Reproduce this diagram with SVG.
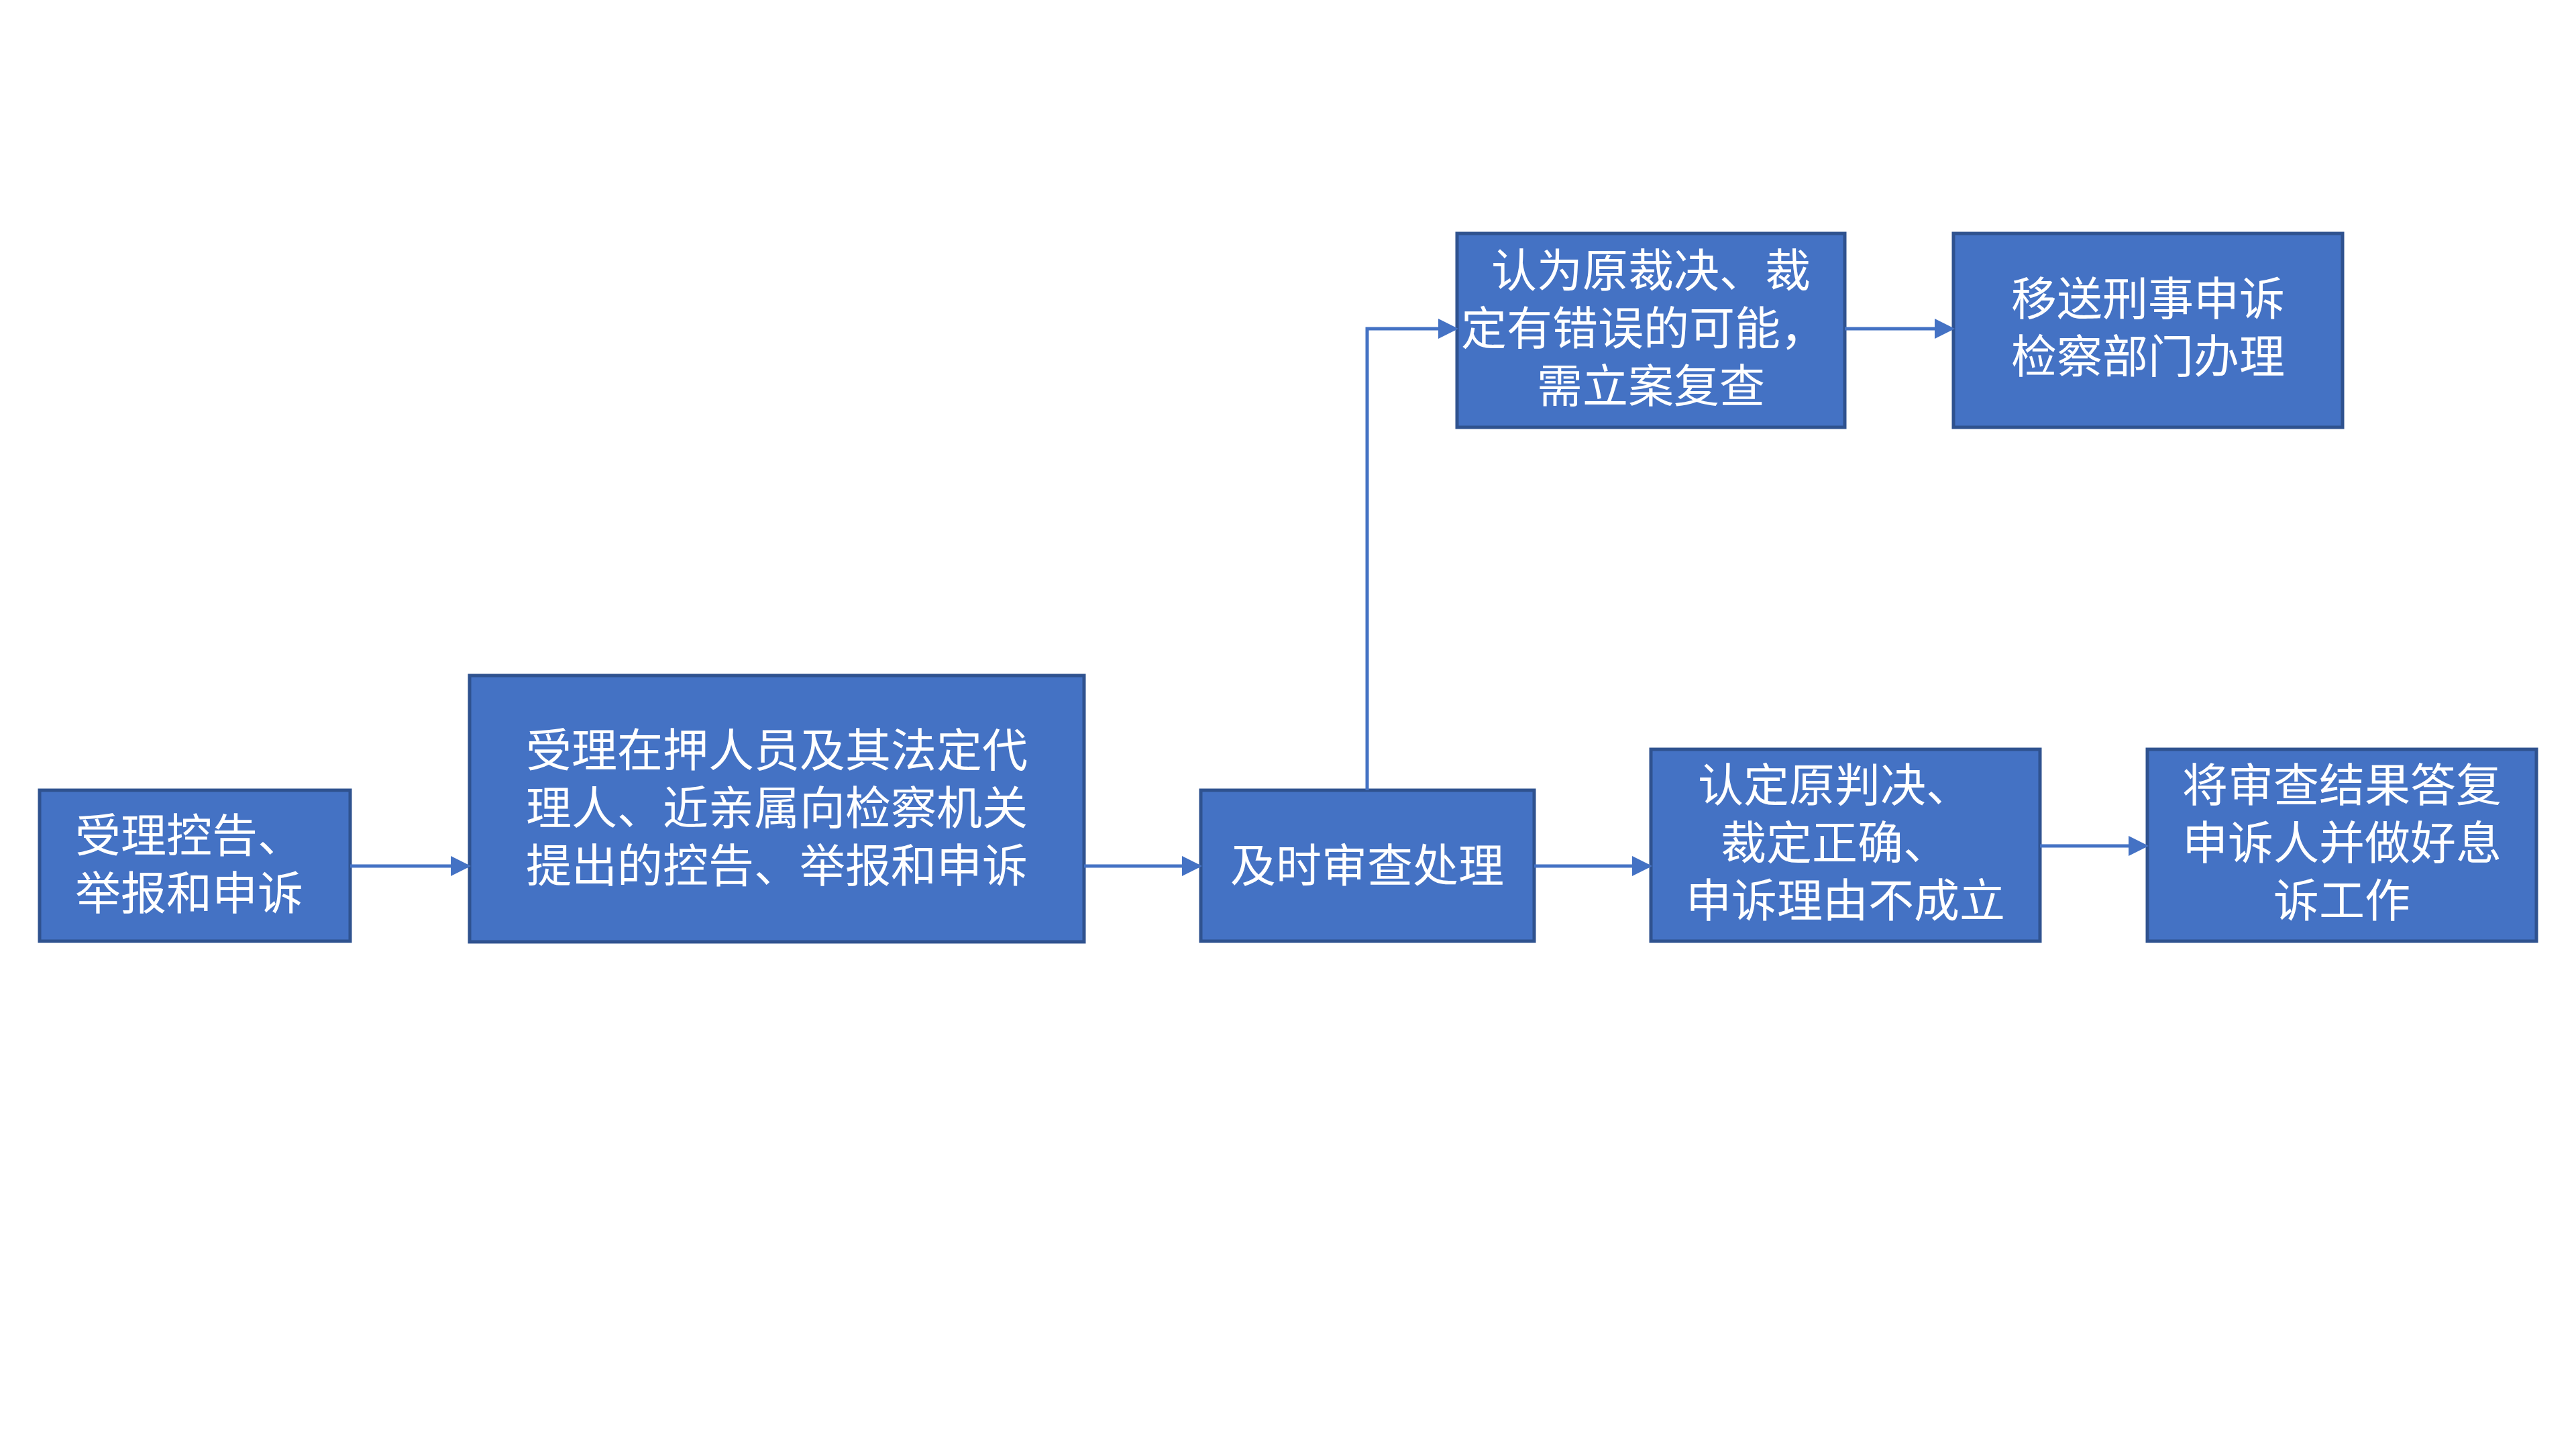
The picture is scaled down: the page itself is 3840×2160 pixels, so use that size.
<svg xmlns="http://www.w3.org/2000/svg" width="3840" height="2160" viewBox="0 0 3840 2160">
<style>
.b{fill:#4472C4;stroke:#2F528F;stroke-width:5}
.t{fill:#fff;font-family:"Noto Sans CJK SC",sans-serif;font-size:68px;text-anchor:middle}
.c{fill:none;stroke:#4472C4;stroke-width:5;marker-end:url(#a)}
</style>
<defs><marker id="a" markerWidth="6" markerHeight="6" refX="5" refY="3" orient="auto"><path d="M0,0L6,3L0,6z" fill="#4472C4"/></marker></defs>
<rect width="3840" height="2160" fill="#fff"/>
<g id="n1"><rect class="b" x="59" y="1178" width="463" height="225"/><text class="t" style="text-anchor:start"><tspan x="112" y="1270">受理控告、</tspan><tspan x="112" dy="86">举报和申诉</tspan></text></g>
<g id="n2"><rect class="b" x="700" y="1007" width="916" height="397"/><text class="t"><tspan x="1158" y="1143">受理在押人员及其法定代</tspan><tspan x="1158" dy="86">理人、近亲属向检察机关</tspan><tspan x="1158" dy="86">提出的控告、举报和申诉</tspan></text></g>
<g id="n3"><rect class="b" x="1790" y="1178" width="497" height="225"/><text class="t" x="2038" y="1315">及时审查处理</text></g>
<g id="n4"><rect class="b" x="2172" y="348" width="578" height="289"/><text class="t"><tspan x="2461" y="428">认为原裁决、裁</tspan><tspan x="2450" dy="86">定有错误的可能，</tspan><tspan x="2461" dy="86">需立案复查</tspan></text></g>
<g id="n5"><rect class="b" x="2912" y="348" width="580" height="289"/><text class="t"><tspan x="3202" y="470">移送刑事申诉</tspan><tspan x="3202" dy="86">检察部门办理</tspan></text></g>
<g id="n6"><rect class="b" x="2461" y="1117" width="580" height="286"/><text class="t"><tspan x="2735" y="1195">认定原判决、</tspan><tspan x="2735" dy="86">裁定正确、</tspan><tspan x="2751" dy="86">申诉理由不成立</tspan></text></g>
<g id="n7"><rect class="b" x="3201" y="1117" width="580" height="286"/><text class="t"><tspan x="3491" y="1195">将审查结果答复</tspan><tspan x="3491" dy="86">申诉人并做好息</tspan><tspan x="3491" dy="86">诉工作</tspan></text></g>
<g id="connectors">
<path class="c" d="M522,1291H697"/>
<path class="c" d="M1616,1291H1787"/>
<path class="c" d="M2287,1291H2458"/>
<path class="c" d="M3041,1261H3198"/>
<path class="c" d="M2038,1178V490H2169"/>
<path class="c" d="M2750,490H2909"/>
</g>
</svg>
